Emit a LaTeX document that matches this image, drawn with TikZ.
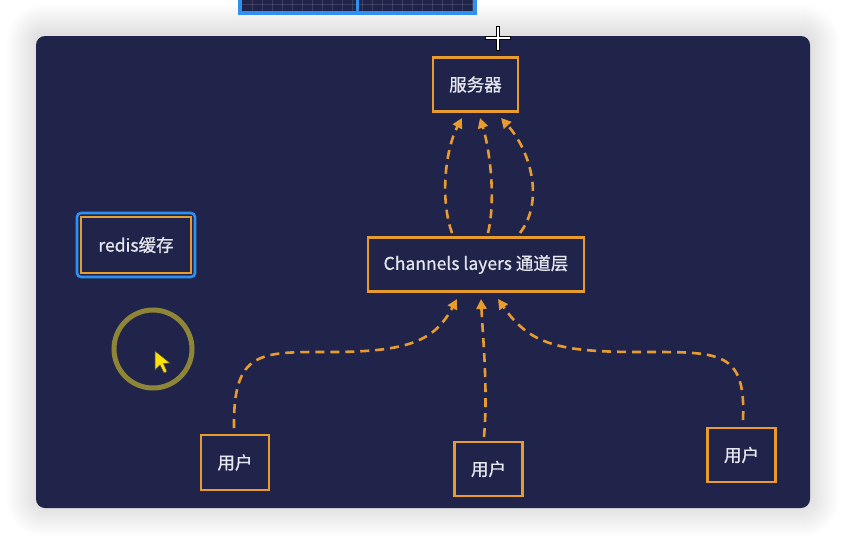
\documentclass[tikz,border=0pt]{standalone}
\usepackage{fontspec}
\setmainfont{Noto Sans CJK SC}
\newfontfamily\lblfont{Noto Sans CJK SC}[FakeBold=0.8]
\usetikzlibrary{arrows.meta}
\definecolor{navy}{HTML}{20244A}
\definecolor{orng}{HTML}{E89B2E}
\definecolor{txt}{HTML}{E6E6EE}
\definecolor{blu}{HTML}{2E90F0}
\definecolor{olive}{HTML}{8E8636}
\tikzset{
  box/.style={draw=orng, line width=2.6pt, fill=navy, text=txt, font=\lblfont\fontsize{17.5}{20}\selectfont, inner sep=0pt, minimum height=54pt},
  link/.style={draw=orng, line width=2.6pt, dash pattern=on 9pt off 6pt, -{Triangle[width=10pt,length=10pt]}},
}
\begin{document}
\begin{tikzpicture}[x=1pt,y=-1pt]
\useasboundingbox (0,0) rectangle (846,544);
\fill[white] (0,0) rectangle (846,544);
% soft shadow of the panel
\foreach \i in {1,...,30} {
  \fill[black, opacity=0.0055, rounded corners={9pt+\i pt}] (36-\i,36-\i-2) rectangle (810+\i,508+\i-1);
}
% top blue element
\fill[blu] (238,-2) rectangle (477,15);
\fill[navy] (242,-2) rectangle (473,11);
\foreach \x in {252,262,...,472} \draw[white,opacity=0.12,line width=0.6pt] (\x,-2) -- (\x,11);
\draw[white,opacity=0.12,line width=0.6pt] (242,4) -- (473,4);
\fill[blu] (356,-2) rectangle (359,11);
% main panel
\fill[navy, rounded corners=9pt] (36,36) rectangle (810,508);
% nodes
\node[box, minimum width=85pt] (srv) at (475.5,84.5) {服务器};
\node[box, minimum width=216pt] (ch) at (476,264.5) {Channels layers 通道层};
\node[box, minimum width=68pt, minimum height=55pt] (u1) at (235,462.5) {用户};
\node[box, minimum width=68pt] (u2) at (488.5,469) {用户};
\node[box, minimum width=68pt] (u3) at (741.5,455) {用户};
\node[draw=blu, line width=2.6pt, rounded corners=4pt, minimum width=118pt, minimum height=64pt, inner sep=0pt] (rdo) at (136,245) {};
\node[box, minimum width=110pt, minimum height=56pt, line width=2.2pt] (rd) at (136,245) {redis缓存};
% circle and cursor
\draw[olive, line width=5pt] (153,349) circle (39);
\filldraw[fill=yellow!85!orange, draw=black!70, line width=0.6pt] (155,351) -- (155,370) -- (160,365) -- (164,373) -- (167,371.5) -- (163.5,363.5) -- (170,363) -- cycle;
% crosshair
\draw[black, line width=3.6pt] (498,26) -- (498,51) (485,38) -- (511,38);
\draw[white, line width=1.8pt] (498,27) -- (498,50) (486,38) -- (510,38);
% coordinates
\coordinate (c1) at (452,233);
\coordinate (c2) at (488,233);
\coordinate (c3) at (520,233);
\coordinate (t1) at (462,118);
\coordinate (t2) at (480,118);
\coordinate (t3) at (501,118);
\coordinate (b1) at (457,299);
\coordinate (b2) at (481,299);
\coordinate (b3) at (498,299);
\coordinate (s1) at (234,428);
\coordinate (s2) at (484,437);
\coordinate (s3) at (743,420);
% top links
\draw[link] (c1) .. controls (440,200) and (445,150) .. (t1);
\draw[link] (c2) .. controls (496,200) and (490,150) .. (t2);
\draw[link] (c3) .. controls (545,200) and (530,150) .. (t3);
% bottom links
\draw[link] (s1) .. controls (233,350) and (260,352) .. (330,352) .. controls (410,352) and (435,340) .. (b1);
\draw[link] (s2) .. controls (488,390) and (483,340) .. (b2);
\draw[link] (s3) .. controls (746,350) and (720,352) .. (640,352) .. controls (560,352) and (530,345) .. (b3);
\end{tikzpicture}
\end{document}
